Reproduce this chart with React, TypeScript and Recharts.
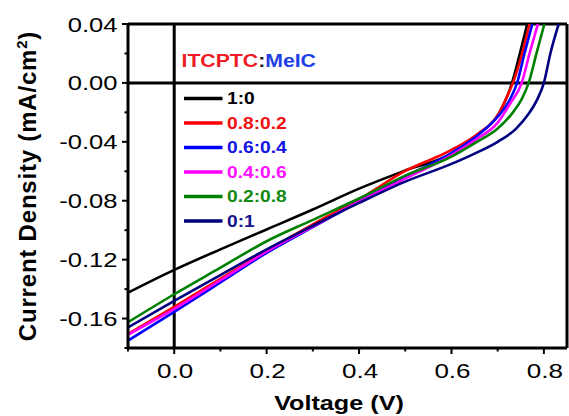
import React from "react";
import { LineChart, Line, XAxis, YAxis, ReferenceLine } from "recharts";

// ---- data (Voltage in V, current density in mA/cm^2) ----
const vBlack = [-0.1, 0, 0.1, 0.2, 0.3, 0.4, 0.5, 0.6, 0.655, 0.703, 0.722, 0.731, 0.748, 0.764];
const jBlack = [-0.1425, -0.127, -0.113, -0.0995, -0.086, -0.0718, -0.0595, -0.048, -0.0355, -0.0205, -0.008, 0, 0.02, 0.04];

const vRed = [-0.1, 0, 0.1, 0.2, 0.3, 0.4, 0.5, 0.6, 0.655, 0.703, 0.722, 0.733, 0.753, 0.769];
const jRed = [-0.1705, -0.152, -0.133, -0.114, -0.096, -0.079, -0.0598, -0.0455, -0.035, -0.0205, -0.008, 0, 0.02, 0.04];

const vBlue = [-0.1, 0, 0.1, 0.2, 0.3, 0.4, 0.5, 0.6, 0.655, 0.7, 0.727, 0.742, 0.758, 0.775];
const jBlue = [-0.175, -0.1555, -0.1355, -0.1155, -0.098, -0.0805, -0.0635, -0.0476, -0.036, -0.023, -0.011, 0, 0.02, 0.04];

const vMagenta = [-0.1, 0, 0.1, 0.2, 0.3, 0.4, 0.5, 0.6, 0.655, 0.7, 0.727, 0.752, 0.769, 0.787];
const jMagenta = [-0.171, -0.1535, -0.134, -0.1145, -0.0975, -0.0805, -0.065, -0.049, -0.038, -0.027, -0.014, 0, 0.02, 0.04];

const vGreen = [-0.1, 0, 0.1, 0.2, 0.3, 0.4, 0.5, 0.6, 0.655, 0.7, 0.733, 0.752, 0.767, 0.784, 0.801];
const jGreen = [-0.1625, -0.1435, -0.1255, -0.1075, -0.093, -0.0785, -0.063, -0.05, -0.04, -0.031, -0.02, -0.011, 0, 0.02, 0.04];

const vNavy = [-0.1, 0, 0.1, 0.2, 0.3, 0.4, 0.5, 0.6, 0.65, 0.7, 0.74, 0.767, 0.786, 0.8, 0.814, 0.832];
const jNavy = [-0.166, -0.148, -0.1305, -0.113, -0.097, -0.0815, -0.067, -0.055, -0.048, -0.04, -0.031, -0.021, -0.011, 0, 0.02, 0.04];

const ratioLabels = ["1:0", "0.8:0.2", "0.6:0.4", "0.4:0.6", "0.2:0.8", "0:1"];
const xTicks = [-0.1, 0, 0.1, 0.2, 0.3, 0.4, 0.5, 0.6, 0.7, 0.8];
const yTicks = [-0.18, -0.16, -0.14, -0.12, -0.1, -0.08, -0.06, -0.04, -0.02, 0, 0.02, 0.04];

// ---- styling ----
const lineColors = ["#000000", "#ff0000", "#0000ff", "#ff00ff", "#008000", "#000080"];
const labelColors = ["#000000", "#f01010", "#1414e6", "#ff10ff", "#118a11", "#14148c"];
const FONT = "'Liberation Sans', Arial, sans-serif";

const toPts = (v: number[], j: number[]) => v.map((x, i) => ({ v: x, j: j[i] }));
const seriesData = [
  toPts(vBlack, jBlack),
  toPts(vRed, jRed),
  toPts(vBlue, jBlue),
  toPts(vMagenta, jMagenta),
  toPts(vGreen, jGreen),
  toPts(vNavy, jNavy),
];

const XTick = (props: any) => {
  const { x, y, payload } = props;
  const v = payload.value as number;
  const major = Math.abs(Math.round(v * 10)) % 2 === 0;
  return (
    <g>
      <line x1={x} x2={x} y1={y} y2={y + (major ? 6 : 3.5)} stroke="#000" strokeWidth={2} />
      {major && (
        <text
          transform={`translate(${x + 1},${y + 29.5}) scale(1.24,1)`}
          textAnchor="middle"
          fontSize={21}
          fontFamily={FONT}
          fill="#000"
        >
          {v.toFixed(1)}
        </text>
      )}
    </g>
  );
};

const YTick = (props: any) => {
  const { x, y, payload } = props;
  const v = payload.value as number;
  const major = Math.abs(Math.round(v * 100)) % 4 === 0;
  return (
    <g>
      <line x1={x} x2={x - (major ? 6 : 3.5)} y1={y} y2={y} stroke="#000" strokeWidth={2} />
      {major && (
        <text
          transform={`translate(${x - 10.5},${y + 7.5}) scale(1.22,1)`}
          textAnchor="end"
          fontSize={21}
          fontFamily={FONT}
          fill="#000"
        >
          {v.toFixed(2)}
        </text>
      )}
    </g>
  );
};

const Annotations = () => (
  <g>
    <text
      transform="translate(181.5,66.5) scale(1.18,1)"
      fontSize={18}
      fontWeight="bold"
      fontFamily={FONT}
    >
      <tspan fill="#ee1c24">ITCPTC</tspan>
      <tspan fill="#222">:</tspan>
      <tspan fill="#1f3fe6">MeIC</tspan>
    </text>
    {ratioLabels.map((lab, i) => {
      const y = 98.5 + i * 24.5;
      return (
        <g key={lab}>
          <line x1={184} x2={222.5} y1={y} y2={y} stroke={lineColors[i]} strokeWidth={3.5} />
          <text
            transform={`translate(227,${y + 5.8}) scale(1.2,1)`}
            fontSize={16}
            fontWeight="bold"
            fontFamily={FONT}
            fill={labelColors[i]}
          >
            {lab}
          </text>
        </g>
      );
    })}
    <text
      transform="translate(35.5,186) rotate(-90)"
      textAnchor="middle"
      fontSize={24}
      fontWeight="bold"
      fontFamily={FONT}
      letterSpacing={0.8}
      fill="#000"
    >
      Current Density (mA/cm
      <tspan fontSize={15} dy={-9}>2</tspan>
      <tspan dy={9}>)</tspan>
    </text>
    <text
      transform="translate(339,409.5) scale(1.2,1)"
      textAnchor="middle"
      fontSize={21}
      fontWeight="bold"
      fontFamily={FONT}
      fill="#000"
    >
      Voltage (V)
    </text>
  </g>
);

export default function App() {
  return (
    <div style={{ position: "absolute", left: 0, top: 0, width: 569, height: 416, background: "#fff" }}>
      <LineChart width={569} height={416} margin={{ top: 24, right: 2, bottom: 0, left: 0 }}>
        <XAxis
          type="number"
          dataKey="v"
          domain={[-0.1, 0.85]}
          ticks={xTicks}
          interval={0}
          allowDataOverflow
          height={68}
          tickSize={0}
          tickMargin={0}
          tickLine={false}
          axisLine={{ stroke: "#000", strokeWidth: 3 }}
          tick={(p: any) => <XTick {...p} />}
        />
        <YAxis
          type="number"
          dataKey="j"
          domain={[-0.18, 0.04]}
          ticks={yTicks}
          interval={0}
          allowDataOverflow
          width={128}
          tickSize={0}
          tickMargin={0}
          tickLine={false}
          axisLine={{ stroke: "#000", strokeWidth: 3 }}
          tick={(p: any) => <YTick {...p} />}
        />
        <ReferenceLine y={0} stroke="#000" strokeWidth={3} />
        <ReferenceLine x={0} stroke="#000" strokeWidth={3} />
        <ReferenceLine y={0.04} stroke="#000" strokeWidth={3} />
        <ReferenceLine x={0.85} stroke="#000" strokeWidth={3} />
        {seriesData.map((d, i) => (
          <Line
            key={ratioLabels[i]}
            data={d}
            dataKey="j"
            name={ratioLabels[i]}
            type="monotone"
            stroke={lineColors[i]}
            strokeWidth={2.6}
            dot={false}
            activeDot={false}
            isAnimationActive={false}
          />
        ))}
        <Annotations />
      </LineChart>
    </div>
  );
}
